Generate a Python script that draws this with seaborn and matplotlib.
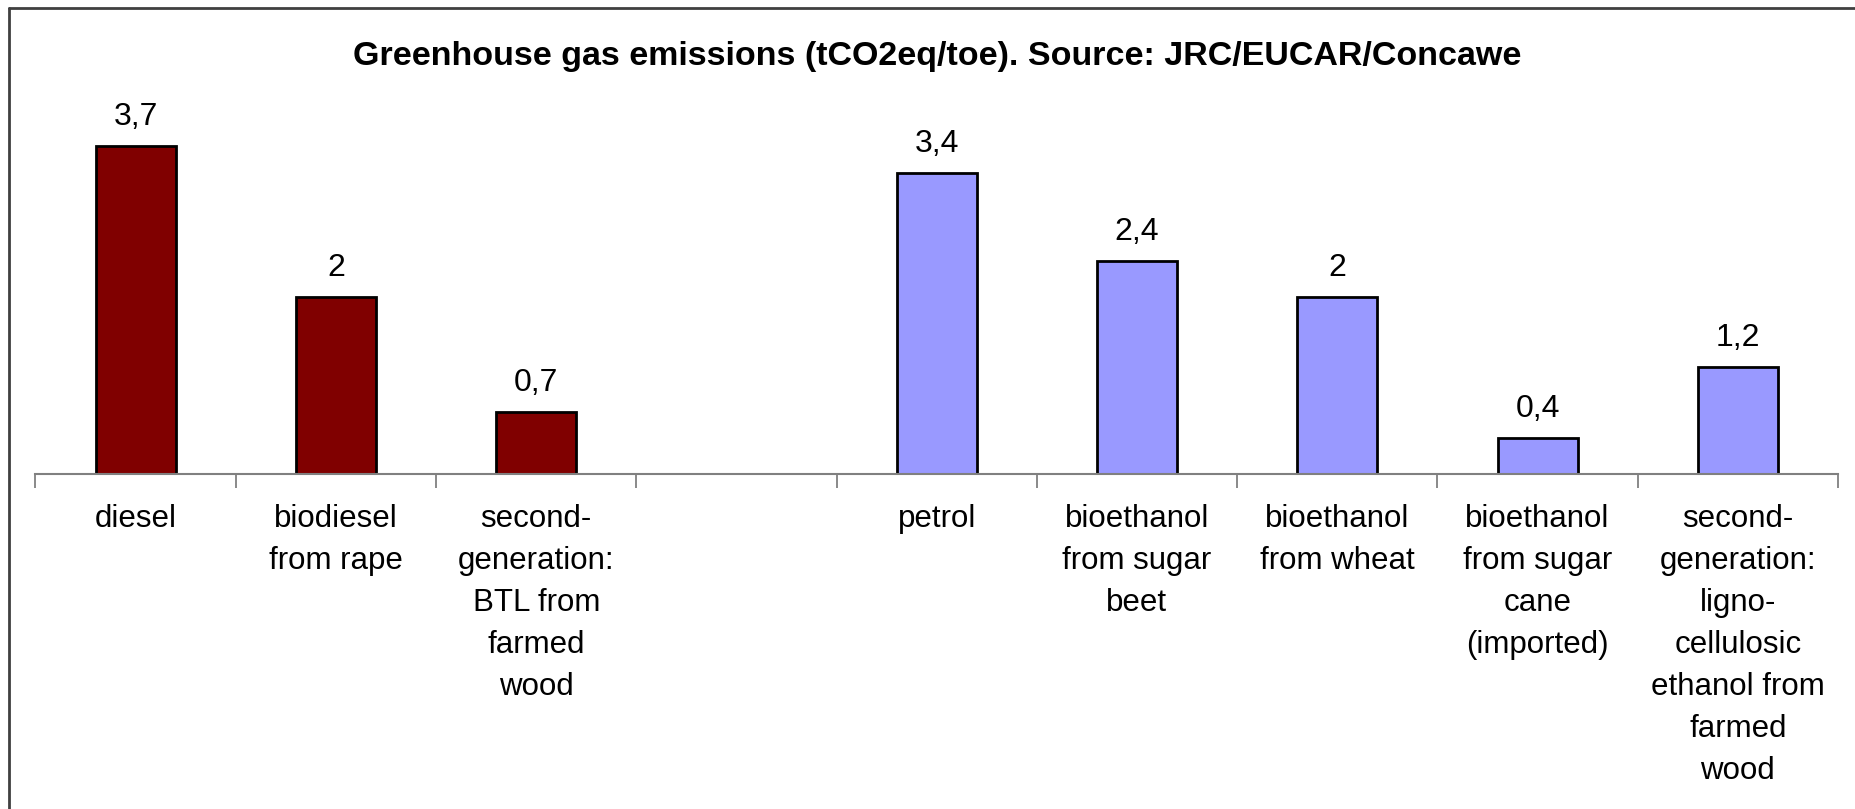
import numpy as np
import pandas as pd
import matplotlib
matplotlib.use("Agg")
import matplotlib.pyplot as plt
from matplotlib.lines import Line2D
import seaborn as sns

# data
diesel_cats = ["diesel", "biodiesel\nfrom rape",
               "second-\ngeneration:\nBTL from\nfarmed\nwood"]
diesel_vals = [3.7, 2.0, 0.7]
petrol_cats = ["petrol", "bioethanol\nfrom sugar\nbeet", "bioethanol\nfrom wheat",
               "bioethanol\nfrom sugar\ncane\n(imported)",
               "second-\ngeneration:\nligno-\ncellulosic\nethanol from\nfarmed\nwood"]
petrol_vals = [3.4, 2.4, 2.0, 0.4, 1.2]
spacer = " "
title = "Greenhouse gas emissions (tCO2eq/toe). Source: JRC/EUCAR/Concawe"

df = pd.DataFrame({
    "fuel": diesel_cats + petrol_cats,
    "value": diesel_vals + petrol_vals,
    "group": ["diesel"] * len(diesel_cats) + ["petrol"] * len(petrol_cats),
})
order = diesel_cats + [spacer] + petrol_cats

sns.set_style("white")
plt.rcParams["font.family"] = ["Liberation Sans", "DejaVu Sans"]
plt.rcParams["text.color"] = "black"
plt.rcParams["xtick.color"] = "black"

W, H = 1856, 809
fig = plt.figure(figsize=(W / 100, H / 100), dpi=100)
fig.patch.set_facecolor("white")

ax_left, ax_right = 35.5, 1838
ax_bot, ax_top = 473.5, 80
ax = fig.add_axes([ax_left / W, (H - ax_bot) / H, (ax_right - ax_left) / W, (ax_bot - ax_top) / H])

sns.barplot(data=df, x="fuel", y="value", hue="group", order=order,
            palette={"diesel": "#800000", "petrol": "#9999FF"},
            saturation=1, dodge=False, width=0.4, errorbar=None, legend=False,
            edgecolor="black", linewidth=2, ax=ax)

for cont in ax.containers:
    labels = [f"{v:g}".replace(".", ",") for v in cont.datavalues]
    ax.bar_label(cont, labels=labels, padding=10, fontsize=23, color="black")

px_per_unit = 88.5
ax.set_ylim(0, (ax_bot - ax_top) / px_per_unit)
ax.set_xlim(-0.5, len(order) - 0.5)

ax.set_xticks(np.arange(len(order)))
ax.set_xticklabels(order, fontsize=22.5, linespacing=1.52, va="top", color="black")
ax.set_xticks(np.arange(len(order) + 1) - 0.5, minor=True)
ax.tick_params(axis="x", which="major", bottom=False, length=0, pad=22)
ax.tick_params(axis="x", which="minor", bottom=True, direction="out",
               length=10, width=1.3, color="#808080")
ax.set_yticks([])
ax.set_xlabel("")
ax.set_ylabel("")
for s in ["top", "right", "left"]:
    ax.spines[s].set_visible(False)
ax.spines["bottom"].set_color("#808080")
ax.spines["bottom"].set_linewidth(1.5)

fig.text(937 / W, 1 - 57 / H, title, ha="center", va="center",
         fontsize=24.5, fontweight="bold", color="black")

# outer chart frame (right and bottom edges are cropped in the original)
fig.add_artist(Line2D([9 / W, 9 / W], [1 - 8 / H, -0.05], transform=fig.transFigure,
                      color="#404040", lw=2))
fig.add_artist(Line2D([9 / W, 1.05], [1 - 8 / H, 1 - 8 / H], transform=fig.transFigure,
                      color="#404040", lw=2))

fig.savefig("out.png", dpi=100)
